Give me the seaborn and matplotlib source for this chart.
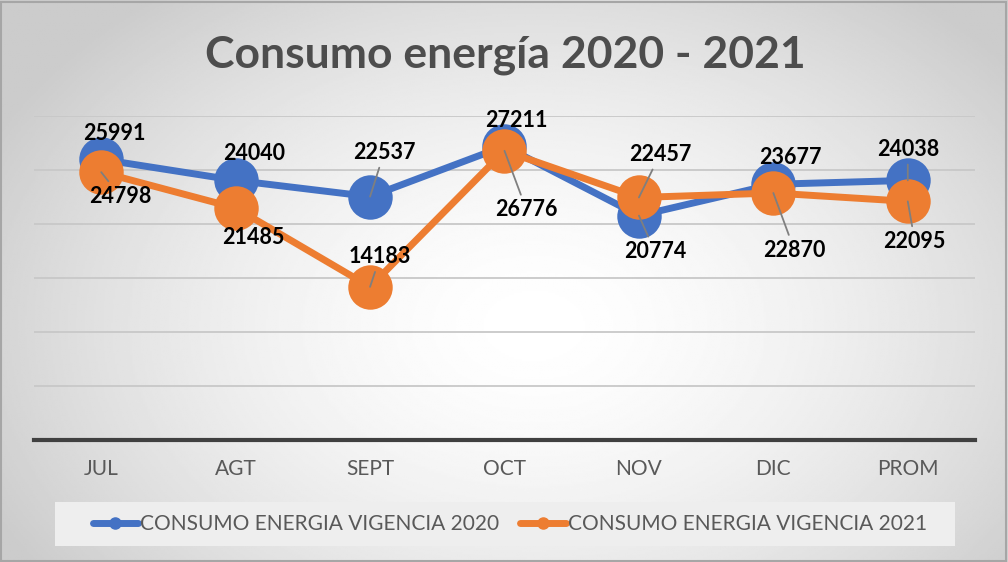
import numpy as np
import pandas as pd
import matplotlib
matplotlib.use('Agg')
import matplotlib.pyplot as plt
from matplotlib.lines import Line2D
from matplotlib.patches import Rectangle
import seaborn as sns

# Datos del grafico
meses = ['JUL', 'AGT', 'SEPT', 'OCT', 'NOV', 'DIC', 'PROM']
consumo_2020 = [25991, 24040, 22537, 27211, 20774, 23677, 24038]
consumo_2021 = [24798, 21485, 14183, 26776, 22457, 22870, 22095]
series = ['CONSUMO ENERGIA VIGENCIA 2020', 'CONSUMO ENERGIA VIGENCIA 2021']
colores = ['#4472C4', '#ED7D31']

sns.set_theme(style='white')
plt.rcParams['font.family'] = ['Lato', 'DejaVu Sans']

df = pd.DataFrame({
    'pos': list(range(len(meses))) * 2,
    'valor': consumo_2020 + consumo_2021,
    'serie': [series[0]] * len(meses) + [series[1]] * len(meses),
})

fig = plt.figure(figsize=(10.08, 5.62), dpi=100)

# fondo con degradado radial
bg = fig.add_axes([0, 0, 1, 1], zorder=-10)
yy, xx = np.mgrid[0:1:300j, 0:1:540j]
r = np.sqrt(((xx - 0.53) / 0.6) ** 2 + ((yy - 0.58) / 0.75) ** 2)
shade = 1 - 0.2 * np.clip(r, 0, 1) ** 1.6
bg.imshow(shade, cmap='gray', vmin=0, vmax=1, aspect='auto', extent=[0, 1, 0, 1], origin='upper')
bg.axis('off')
fig.patches.append(Rectangle((0.001, 0.002), 0.997, 0.995, transform=fig.transFigure,
                             fill=False, edgecolor='#a6a6a6', linewidth=1.5))

ax = fig.add_axes([34 / 1008, 1 - 440 / 562, 941 / 1008, 324 / 562])
ax.set_facecolor('none')

sns.lineplot(data=df, x='pos', y='valor', hue='serie', palette=colores, sort=False,
             marker='o', markersize=32, markeredgewidth=0, linewidth=5,
             legend=False, ax=ax, clip_on=False)

ax.set_xlim(-0.5, len(meses) - 0.5)
ax.set_ylim(0, 30000)
ax.set_yticks(np.arange(0, 30001, 5000))
ax.yaxis.grid(True, color='#c8c8c8', linewidth=1.3)
ax.set_axisbelow(True)
ax.set_yticklabels([])
ax.tick_params(axis='y', length=0)
ax.set_xticks(range(len(meses)))
ax.set_xticklabels(meses, fontsize=15, color='#595959')
ax.tick_params(axis='x', length=0, pad=14)
for s in ['top', 'left', 'right']:
    ax.spines[s].set_visible(False)
ax.spines['bottom'].set_color('#404040')
ax.spines['bottom'].set_linewidth(3)
ax.set_xlabel('')
ax.set_ylabel('')

# desplazamientos de etiquetas en pixeles (dx, dy hacia abajo), con linea guia o no
off_2020 = [(13, -26, False), (18, -27, False), (14, -44, True), (12, -26, False),
            (16, 36, True), (17, -27, False), (0, -31, True)]
off_2021 = [(19, 24, True), (18, 30, False), (10, -30, True), (22, 59, True),
            (21, -43, True), (21, 57, True), (7, 40, True)]

for vals, offs in [(consumo_2020, off_2020), (consumo_2021, off_2021)]:
    for i, (v, (dx, dy, guia)) in enumerate(zip(vals, offs)):
        kw = {}
        if guia:
            kw['arrowprops'] = dict(arrowstyle='-', color='#7f7f7f', lw=1.3, shrinkA=1, shrinkB=0)
        ax.annotate(str(v), xy=(i, v), xytext=(dx * 0.72, -dy * 0.72), textcoords='offset points',
                    ha='center', va='center', fontsize=15.5, fontweight='bold', color='black',
                    zorder=10, annotation_clip=False, **kw)

fig.text(505 / 1008, 1 - 55 / 562, 'Consumo energía 2020 - 2021', ha='center', va='center',
         fontsize=32, fontweight='bold', color='#4d4d4d')

# leyenda
fig.patches.append(Rectangle((55 / 1008, 1 - 546 / 562), 900 / 1008, 44 / 562,
                             transform=fig.transFigure, facecolor='#eeeeee', edgecolor='none', zorder=1))
handles = [Line2D([0], [0], color=c, linewidth=5, marker='o', markersize=8) for c in colores]
fig.legend(handles, series, loc='center', bbox_to_anchor=(510 / 1008, 1 - 524 / 562), ncol=2,
           frameon=False, fontsize=15, labelcolor='#595959', handlelength=2.2,
           handletextpad=0.1, columnspacing=1.0)

fig.savefig('out.png', dpi=100)
